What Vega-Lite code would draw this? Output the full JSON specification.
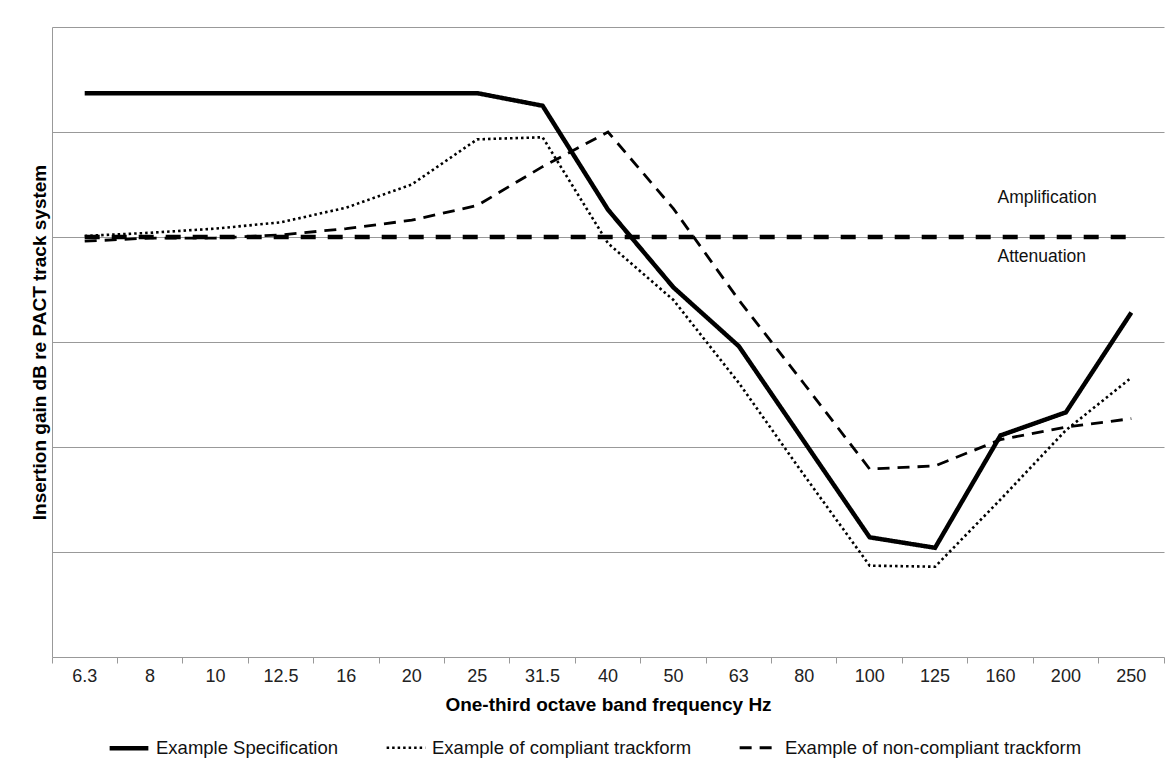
{
  "$schema": "https://vega.github.io/schema/vega-lite/v6.json",
  "width": 1112,
  "height": 630,
  "autosize": {"type": "none"},
  "padding": {"left": 52, "top": 27, "right": 9, "bottom": 116},
  "background": "white",
  "config": {"font": "Liberation Sans", "view": {"stroke": null}},
  "datasets": {
    "series": [
      {"f": "6.3", "v": 13.7, "s": "Example Specification"},
      {"f": "8", "v": 13.7, "s": "Example Specification"},
      {"f": "10", "v": 13.7, "s": "Example Specification"},
      {"f": "12.5", "v": 13.7, "s": "Example Specification"},
      {"f": "16", "v": 13.7, "s": "Example Specification"},
      {"f": "20", "v": 13.7, "s": "Example Specification"},
      {"f": "25", "v": 13.7, "s": "Example Specification"},
      {"f": "31.5", "v": 12.5, "s": "Example Specification"},
      {"f": "40", "v": 2.6, "s": "Example Specification"},
      {"f": "50", "v": -4.8, "s": "Example Specification"},
      {"f": "63", "v": -10.4, "s": "Example Specification"},
      {"f": "80", "v": -19.5, "s": "Example Specification"},
      {"f": "100", "v": -28.6, "s": "Example Specification"},
      {"f": "125", "v": -29.6, "s": "Example Specification"},
      {"f": "160", "v": -18.9, "s": "Example Specification"},
      {"f": "200", "v": -16.7, "s": "Example Specification"},
      {"f": "250", "v": -7.2, "s": "Example Specification"},
      {"f": "6.3", "v": 0.1, "s": "Example of compliant trackform"},
      {"f": "8", "v": 0.4, "s": "Example of compliant trackform"},
      {"f": "10", "v": 0.8, "s": "Example of compliant trackform"},
      {"f": "12.5", "v": 1.4, "s": "Example of compliant trackform"},
      {"f": "16", "v": 2.8, "s": "Example of compliant trackform"},
      {"f": "20", "v": 5.0, "s": "Example of compliant trackform"},
      {"f": "25", "v": 9.3, "s": "Example of compliant trackform"},
      {"f": "31.5", "v": 9.5, "s": "Example of compliant trackform"},
      {"f": "40", "v": -0.6, "s": "Example of compliant trackform"},
      {"f": "50", "v": -6.0, "s": "Example of compliant trackform"},
      {"f": "63", "v": -13.9, "s": "Example of compliant trackform"},
      {"f": "80", "v": -22.7, "s": "Example of compliant trackform"},
      {"f": "100", "v": -31.3, "s": "Example of compliant trackform"},
      {"f": "125", "v": -31.4, "s": "Example of compliant trackform"},
      {"f": "160", "v": -25.0, "s": "Example of compliant trackform"},
      {"f": "200", "v": -18.4, "s": "Example of compliant trackform"},
      {"f": "250", "v": -13.4, "s": "Example of compliant trackform"},
      {"f": "6.3", "v": -0.4, "s": "Example of non-compliant trackform"},
      {"f": "8", "v": -0.1, "s": "Example of non-compliant trackform"},
      {"f": "10", "v": -0.1, "s": "Example of non-compliant trackform"},
      {"f": "12.5", "v": 0.2, "s": "Example of non-compliant trackform"},
      {"f": "16", "v": 0.8, "s": "Example of non-compliant trackform"},
      {"f": "20", "v": 1.6, "s": "Example of non-compliant trackform"},
      {"f": "25", "v": 3.0, "s": "Example of non-compliant trackform"},
      {"f": "31.5", "v": 6.7, "s": "Example of non-compliant trackform"},
      {"f": "40", "v": 10.0, "s": "Example of non-compliant trackform"},
      {"f": "50", "v": 2.7, "s": "Example of non-compliant trackform"},
      {"f": "63", "v": -6.0, "s": "Example of non-compliant trackform"},
      {"f": "80", "v": -14.0, "s": "Example of non-compliant trackform"},
      {"f": "100", "v": -22.1, "s": "Example of non-compliant trackform"},
      {"f": "125", "v": -21.8, "s": "Example of non-compliant trackform"},
      {"f": "160", "v": -19.3, "s": "Example of non-compliant trackform"},
      {"f": "200", "v": -18.1, "s": "Example of non-compliant trackform"},
      {"f": "250", "v": -17.3, "s": "Example of non-compliant trackform"}
    ],
    "zero": [
      {"f": "6.3", "v": 0},
      {"f": "250", "v": 0}
    ],
    "notes": [
      {"f": "160", "v": 3.7, "t": "Amplification"},
      {"f": "160", "v": -1.9, "t": "Attenuation"}
    ]
  },
  "encoding": {
    "x": {
      "field": "f",
      "type": "ordinal",
      "scale": {
        "type": "band",
        "domain": ["6.3", "8", "10", "12.5", "16", "20", "25", "31.5", "40", "50", "63", "80", "100", "125", "160", "200", "250"],
        "paddingInner": 0,
        "paddingOuter": 0
      },
      "axis": {
        "title": "One-third octave band frequency Hz",
        "titleFontSize": 19,
        "titleFontWeight": "bold",
        "titleColor": "black",
        "titlePadding": 10,
        "labelFontSize": 18,
        "labelColor": "#222",
        "labelAngle": 0,
        "labelPadding": 4,
        "bandPosition": 1,
        "tickExtra": true,
        "labelOffset": 0,
        "ticks": true,
        "tickSize": 6,
        "tickColor": "#999",
        "domainColor": "#999",
        "grid": false
      }
    },
    "y": {
      "field": "v",
      "type": "quantitative",
      "scale": {"domain": [-40, 20], "nice": false, "zero": false},
      "axis": {
        "title": "Insertion gain dB re PACT track system",
        "titleFontSize": 19,
        "titleFontWeight": "bold",
        "titleColor": "black",
        "titlePadding": 3,
        "labels": false,
        "ticks": false,
        "domainColor": "#999",
        "gridColor": "#999",
        "grid": true,
        "values": [-30, -20, -10, 0, 10, 20]
      }
    }
  },
  "layer": [
    {
      "data": {"name": "series"},
      "mark": {"type": "line", "strokeJoin": "miter"},
      "encoding": {
        "strokeDash": {
          "field": "s",
          "type": "nominal",
          "scale": {
            "type": "ordinal",
            "domain": ["Example Specification", "Example of compliant trackform", "Example of non-compliant trackform"],
            "range": [[1, 0], [2.5, 3], [12, 8]]
          },
          "legend": {
            "title": null,
            "orient": "none",
            "legendX": 55,
            "legendY": 699,
            "direction": "horizontal",
            "symbolType": "stroke",
            "symbolSize": 1500,
            "symbolStrokeColor": "black",
            "labelFontSize": 18.5,
            "labelColor": "#111",
            "labelOffset": 5,
            "labelLimit": 0,
            "columnPadding": 42
          }
        },
        "strokeWidth": {
          "field": "s",
          "type": "nominal",
          "scale": {
            "type": "ordinal",
            "domain": ["Example Specification", "Example of compliant trackform", "Example of non-compliant trackform"],
            "range": [4.5, 2.6, 2.8]
          },
          "legend": {
            "title": null,
            "orient": "none",
            "legendX": 55,
            "legendY": 699,
            "direction": "horizontal",
            "symbolType": "stroke",
            "symbolSize": 1500,
            "symbolStrokeColor": "black",
            "labelFontSize": 18.5,
            "labelColor": "#111",
            "labelOffset": 5,
            "labelLimit": 0,
            "columnPadding": 42
          }
        },
        "color": {"value": "black"}
      }
    },
    {
      "data": {"name": "zero"},
      "mark": {"type": "line", "color": "black", "strokeWidth": 4.5, "strokeDash": [15, 12]},
      "encoding": {}
    },
    {
      "data": {"name": "notes"},
      "mark": {"type": "text", "align": "left", "baseline": "middle", "dx": -3, "fontSize": 17.5, "color": "#111"},
      "encoding": {"text": {"field": "t"}}
    }
  ]
}
